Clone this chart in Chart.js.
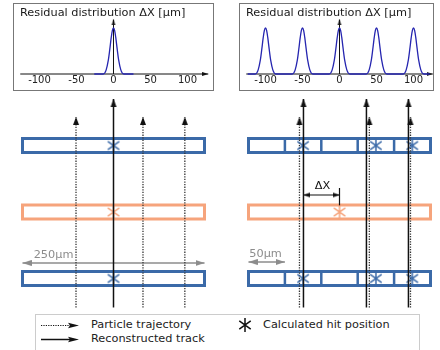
<!DOCTYPE html>
<html>
<head>
<meta charset="utf-8">
<title>Residual distribution ΔX</title>
<script src="https://cdn.jsdelivr.net/npm/chart.js@4.4.1/dist/chart.umd.min.js"></script>
<style>
  body { margin: 0; background: #fff; font-family: 'DejaVu Sans', sans-serif; }
  #fig { position: relative; width: 440px; height: 350px; overflow: hidden; }
  .inset { position: absolute; top: 3px; height: 86px; border: 1px solid #777; background: #fff; }
  .inset canvas { position: absolute; left: 0; top: 0; }
  .panel { position: absolute; top: 92px; }
  #legend { position: absolute; left: 35px; top: 314px; width: 383px; height: 50px; border: 1px solid #ccc; background: #fff; }
  #legend .txt { position: absolute; font-size: 11.3px; line-height: 14px; color: #222; white-space: nowrap; }
  #legend canvas { position: absolute; }
</style>
</head>
<body>
<div id="fig">
  <canvas id="panelLeft" class="panel" width="220" height="220" style="left:0px"></canvas>
  <canvas id="panelRight" class="panel" width="220" height="220" style="left:220px"></canvas>
  <div class="inset" style="left:13px; width:199px"><canvas id="insetLeft" width="199" height="86"></canvas></div>
  <div class="inset" style="left:239px; width:193px"><canvas id="insetRight" width="193" height="86"></canvas></div>
  <div id="legend">
    <canvas id="lgDot" width="42" height="13" style="left:4px; top:4px"></canvas>
    <div class="txt" style="left:55px; top:3px">Particle trajectory</div>
    <canvas id="lgSolid" width="42" height="13" style="left:4px; top:18px"></canvas>
    <div class="txt" style="left:55px; top:17px">Reconstructed track</div>
    <canvas id="lgStar" width="16" height="16" style="left:201px; top:2px"></canvas>
    <div class="txt" style="left:227px; top:3px">Calculated hit position</div>
  </div>
</div>
<script>
// ---- données ----
// graduations des encarts (µm)
const residualTicks = [-100, -50, 0, 50, 100];

// distribution des résidus, un seul pixel de 250 µm
const resSingleX = [-26, -14, -10, -7, -5, -3, -1.5, 0, 1.5, 3, 5, 7, 10, 14, 27];
const resSingleY = [0, 0, 0.085, 0.3, 0.54, 0.8, 0.95, 1, 0.95, 0.8, 0.54, 0.3, 0.085, 0, 0];

// distribution des résidus, pistes de 50 µm
const resStripX = [-124,
  -114, -110, -107, -105, -103, -101.5, -100, -98.5, -97, -95, -93, -90, -86,
  -64, -60, -57, -55, -53, -51.5, -50, -48.5, -47, -45, -43, -40, -36,
  -14, -10, -7, -5, -3, -1.5, 0, 1.5, 3, 5, 7, 10, 14,
  36, 40, 43, 45, 47, 48.5, 50, 51.5, 53, 55, 57, 60, 64,
  86, 90, 93, 95, 97, 98.5, 100, 101.5, 103, 105, 107, 110, 114,
  122];
const resStripY = [0,
  0, 0.085, 0.3, 0.54, 0.8, 0.95, 1, 0.95, 0.8, 0.54, 0.3, 0.085, 0,
  0, 0.085, 0.3, 0.54, 0.8, 0.95, 1, 0.95, 0.8, 0.54, 0.3, 0.085, 0,
  0, 0.085, 0.3, 0.54, 0.8, 0.95, 1, 0.95, 0.8, 0.54, 0.3, 0.085, 0,
  0, 0.085, 0.3, 0.54, 0.8, 0.95, 1, 0.95, 0.8, 0.54, 0.3, 0.085, 0,
  0, 0.085, 0.3, 0.54, 0.8, 0.95, 1, 0.95, 0.8, 0.54, 0.3, 0.085, 0,
  0];

// couches du détecteur (0 = bas, 1 = milieu, 2 = haut)
const layers = [0, 1, 2];
const sensorWidth = 250;   // µm
const stripEdges = [50, 100, 150, 200];   // séparations des pistes (µm)

// panneau gauche : un pixel de 250 µm
const trajLeft = [73.5, 165.5, 223];
const trackLeft = [125];
const hitsLeft = [125, 125, 125];   // position calculée par couche

// panneau droit : pistes de 50 µm
const trajRight = [70, 166, 222.5];
const trackRight = [75.5, 162, 219.7];
const hitsRightOuter = [75, 175, 225];   // centres des pistes touchées
const hitRightMiddle = 125;
const deltaX = [75.5, 125];

// ---- styles ----
Chart.defaults.font.family = "'DejaVu Sans', sans-serif";
Chart.defaults.color = '#222';
const BLUE = '#3b6aa8';
const ORANGE = '#f6a47c';
const GREY = '#8c8c8c';

// pointe de flèche (pointe au centre de l'image, base derrière)
function arrowHead(color, len, wid) {
  const c = document.createElement('canvas');
  c.width = Math.ceil(wid) + 2;
  c.height = len * 2;
  const g = c.getContext('2d');
  g.fillStyle = color;
  g.beginPath();
  g.moveTo(c.width / 2, len);
  g.lineTo(c.width / 2 + wid / 2, 2 * len);
  g.lineTo(c.width / 2 - wid / 2, 2 * len);
  g.closePath();
  g.fill();
  return c;
}

// astérisque à 6 branches
function asterisk(color, r, lw) {
  const c = document.createElement('canvas');
  c.width = c.height = 16;
  const g = c.getContext('2d');
  g.strokeStyle = color;
  g.lineWidth = lw;
  const a = 35 * Math.PI / 180;
  g.beginPath();
  g.moveTo(8, 8 - r); g.lineTo(8, 8 + r);
  g.moveTo(8 - r * Math.cos(a), 8 - r * Math.sin(a)); g.lineTo(8 + r * Math.cos(a), 8 + r * Math.sin(a));
  g.moveTo(8 - r * Math.cos(a), 8 + r * Math.sin(a)); g.lineTo(8 + r * Math.cos(a), 8 - r * Math.sin(a));
  g.stroke();
  return c;
}

const headAxis = arrowHead('#111', 6, 4);
const headTrack = arrowHead('#111', 8, 6);
const headGrey = arrowHead(GREY, 9, 6);
const headDelta = arrowHead('#111', 7, 5);
const starBlue = asterisk(BLUE, 7, 1.5);
const starOrange = asterisk(ORANGE, 7, 1.5);
const starBlack = asterisk('#111', 7, 1.5);

// ligne avec pointes de flèche éventuelles aux extrémités
function lineSet(pts, o) {
  const heads = o.heads || [];
  return {
    data: pts,
    showLine: true,
    borderColor: o.color,
    borderWidth: o.width,
    borderDash: o.dash || [],
    borderCapStyle: o.cap || 'butt',
    borderJoinStyle: 'miter',
    pointStyle: pts.map((p, i) => heads[i] || 'circle'),
    pointRadius: pts.map((p, i) => heads[i] ? 20 : 0),
    pointRotation: pts.map((p, i) => (o.rot && o.rot[i]) || 0),
    clip: false,
    tension: 0
  };
}

function rectSet(x0, x1, yc, h, color) {
  return lineSet([{x: x0, y: yc - h}, {x: x1, y: yc - h}, {x: x1, y: yc + h}, {x: x0, y: yc + h}, {x: x0, y: yc - h}],
    {color: color, width: 3, cap: 'square'});
}

function hitSet(pts, img) {
  return {data: pts, showLine: false, pointStyle: img, pointRadius: 10, clip: false};
}

// textes placés en coordonnées des axes
const notesPlugin = {
  id: 'notes',
  afterDatasetsDraw(chart, args, opts) {
    const ctx = chart.ctx;
    (opts.items || []).forEach(n => {
      ctx.save();
      ctx.font = n.size + "px 'DejaVu Sans'";
      ctx.fillStyle = n.color;
      ctx.textAlign = 'center';
      ctx.textBaseline = 'middle';
      ctx.fillText(n.text, chart.scales.x.getPixelForValue(n.x), chart.scales.y.getPixelForValue(n.y));
      ctx.restore();
    });
  }
};

const H = 0.105;         // demi-hauteur d'une couche
const Y_BOTTOM = -0.436; // départ des traces
const Y_TRAJ = 2.43;     // fin des trajectoires
const Y_TRACK = 2.7;     // fin des traces reconstruites

function trajSets(xs) {
  return xs.map(x => lineSet([{x: x, y: Y_BOTTOM}, {x: x, y: Y_TRAJ}],
    {color: '#333', width: 1.3, dash: [1.3, 1.3], heads: [null, headTrack]}));
}
function trackSets(xs) {
  return xs.map(x => lineSet([{x: x, y: Y_BOTTOM}, {x: x, y: Y_TRACK}],
    {color: '#111', width: 1.5, heads: [null, headTrack]}));
}

function panelChart(id, xr, sets, notes) {
  return new Chart(document.getElementById(id), {
    type: 'scatter',
    data: {datasets: sets},
    options: {
      responsive: false,
      animation: false,
      events: [],
      layout: {padding: 0, autoPadding: false},
      plugins: {legend: {display: false}, tooltip: {enabled: false}, notes: {items: notes}},
      scales: {
        x: {display: false, min: xr[0], max: xr[1]},
        y: {display: false, min: -0.504, max: 2.805}
      }
    },
    plugins: [notesPlugin]
  });
}

// panneau gauche
panelChart('panelLeft', [-30.91, 271.29], [
  ...trackSets(trackLeft),
  hitSet([{x: hitsLeft[0], y: layers[0]}, {x: hitsLeft[2], y: layers[2]}], starBlue),
  hitSet([{x: hitsLeft[1], y: layers[1]}], starOrange),
  ...trajSets(trajLeft),
  lineSet([{x: 0, y: 0.233}, {x: sensorWidth, y: 0.233}], {color: GREY, width: 1.5, heads: [headGrey, headGrey], rot: [-90, 90]}),
  rectSet(0, sensorWidth, layers[0], H, BLUE),
  rectSet(0, sensorWidth, layers[1], H, ORANGE),
  rectSet(0, sensorWidth, layers[2], H, BLUE)
], [
  {text: '250µm', x: 42.6, y: 0.353, size: 11.3, color: GREY}
]);

// panneau droit
const dividers = [];
[layers[0], layers[2]].forEach(l => {
  stripEdges.forEach(e => {
    dividers.push({x: e, y: l - H}, {x: e, y: l + H}, {x: e, y: null});
  });
});

panelChart('panelRight', [-39.15, 263.05], [
  ...trackSets(trackRight),
  lineSet([{x: deltaX[0], y: 1.256}, {x: deltaX[1], y: 1.256}], {color: '#111', width: 1.2, heads: [headDelta, headDelta], rot: [-90, 90]}),
  lineSet([{x: deltaX[1], y: 1.1}, {x: deltaX[1], y: 1.361}], {color: '#111', width: 1.2}),
  hitSet(hitsRightOuter.map(x => ({x: x, y: layers[0]})).concat(hitsRightOuter.map(x => ({x: x, y: layers[2]}))), starBlue),
  hitSet([{x: hitRightMiddle, y: layers[1]}], starOrange),
  ...trajSets(trajRight),
  lineSet([{x: 0, y: 0.248}, {x: stripEdges[0], y: 0.248}], {color: GREY, width: 1.5, heads: [headGrey, headGrey], rot: [-90, 90]}),
  Object.assign(lineSet(dividers, {color: BLUE, width: 2.5}), {spanGaps: false}),
  rectSet(0, sensorWidth, layers[0], H, BLUE),
  rectSet(0, sensorWidth, layers[1], H, ORANGE),
  rectSet(0, sensorWidth, layers[2], H, BLUE)
], [
  {text: '50µm', x: 23.4, y: 0.368, size: 11.3, color: GREY},
  {text: 'ΔX', x: 101.6, y: 1.383, size: 11.3, color: '#111'}
]);

// encarts : distribution des résidus
function insetChart(id, xr, curveX, curveY, axisEnd) {
  const curve = curveX.map((x, i) => ({x: x, y: curveY[i]}));
  return new Chart(document.getElementById(id), {
    type: 'scatter',
    data: {
      datasets: [
        {data: curve, showLine: true, borderColor: '#2626b0', borderWidth: 1.3, pointRadius: 0,
         cubicInterpolationMode: 'monotone', clip: false},
        lineSet([{x: axisEnd[0], y: 0}, {x: axisEnd[1], y: 0}], {color: '#111', width: 1, heads: [null, headAxis], rot: [0, 90]}),
        lineSet([{x: 0, y: 0}, {x: 0, y: 1.185}], {color: '#111', width: 1, heads: [null, headAxis], rot: [0, 0]})
      ]
    },
    options: {
      responsive: false,
      animation: false,
      events: [],
      layout: {padding: {left: 6}, autoPadding: false},
      plugins: {
        legend: {display: false},
        tooltip: {enabled: false},
        title: {display: true, text: 'Residual distribution ΔX [µm]', align: 'start', color: '#1a1a1a',
                font: {size: 11.3, weight: 'normal'}, padding: {top: 2, bottom: 2}}
      },
      scales: {
        x: {
          min: xr[0], max: xr[1],
          grid: {display: false, drawTicks: false},
          border: {display: false},
          ticks: {font: {size: 10}, color: '#222', padding: 4, maxRotation: 0, autoSkip: false},
          afterBuildTicks: s => { s.ticks = residualTicks.map(v => ({value: v})); }
        },
        // l'axe des x de l'encart (y = 0) est un peu sous le bas de la zone de tracé
        y: {display: false, min: 0.087, max: 1.14}
      }
    }
  });
}

insetChart('insetLeft', [-126.35, 134.46], resSingleX, resSingleY, [-126, 128]);
insetChart('insetRight', [-126.35, 126.35], resStripX, resStripY, [-126, 126]);

// légende
function legendLine(id, dotted) {
  const g = document.getElementById(id).getContext('2d');
  g.strokeStyle = '#111';
  g.lineWidth = dotted ? 1.2 : 1.5;
  if (dotted) g.setLineDash([1.2, 1.2]);
  g.beginPath(); g.moveTo(1, 6.5); g.lineTo(30, 6.5); g.stroke();
  g.fillStyle = '#111';
  g.beginPath(); g.moveTo(39, 6.5); g.lineTo(28, 3.8); g.lineTo(30, 6.5); g.lineTo(28, 9.2); g.closePath(); g.fill();
}
legendLine('lgDot', true);
legendLine('lgSolid', false);
document.getElementById('lgStar').getContext('2d').drawImage(starBlack, 0, 0);
</script>
</body>
</html>
